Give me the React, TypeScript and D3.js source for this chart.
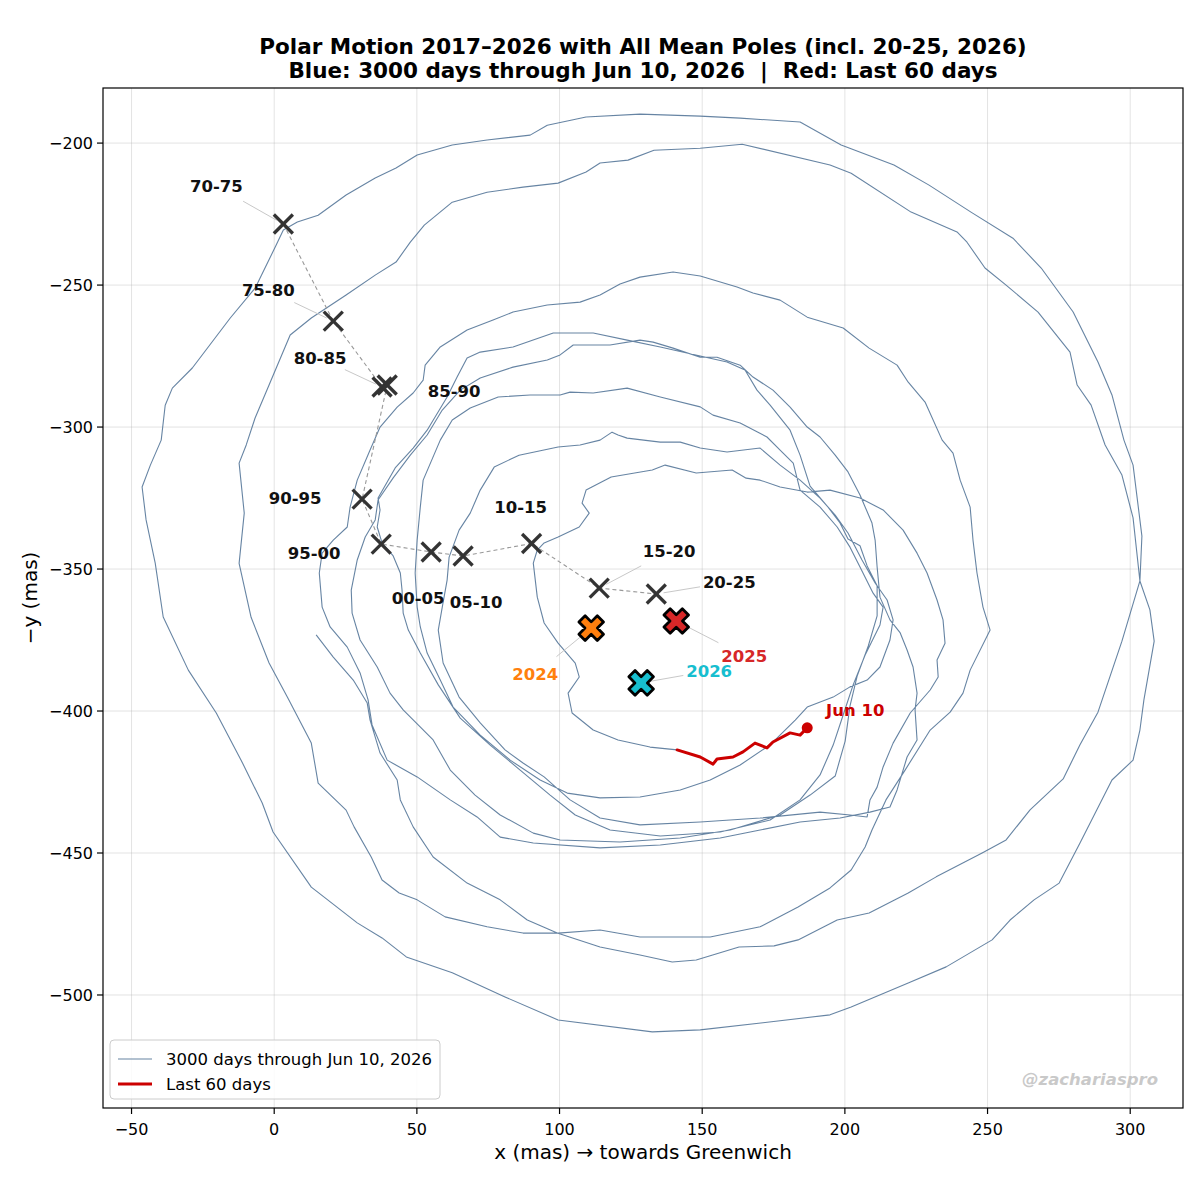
import * as d3 from "d3";
import React from "react";

type Pt = [number, number];

// polar motion path (x, -y in mas), oldest first
const loop1: Pt[] = [
  [14.7,-373.2],[20.7,-381.0],[27.7,-389.1],[32.6,-397.2],[33.6,-403.2],[37.1,-414.8],[43.1,-424.3],[44.2,-431.3],
  [48.7,-440.8],[55.7,-451.4],[67.6,-460.6],[79.2,-466.5],[88.7,-473.6],[99.2,-478.2],[114.2,-483.1],[128.2,-485.9],
  [139.5,-488.4],[147.9,-487.7],[162.9,-483.1],[175.2,-482.7],[183.6,-480.6],[197.3,-473.6],[208.5,-471.1],[222.2,-464.1],
  [232.0,-458.4],[248.1,-450.0],[256.5,-445.4],[264.9,-434.8],[276.5,-423.9],[282.4,-411.9],[288.7,-400.4],[297.1,-375.4],
  [303.4,-354.2],[304.1,-338.4],[301.0,-313.4],[297.8,-304.6],[293.6,-288.7],[288.7,-277.1],[280.0,-259.5],[268.8,-244.0],
  [258.9,-233.5],[244.2,-224.3],[229.5,-214.8],[217.2,-207.7],[198.7,-200.7],[184.3,-192.6],[163.3,-191.2],[149.3,-190.5],
  [128.2,-189.8],[109.3,-190.8],[95.7,-193.7],[89.7,-197.2],[74.6,-198.9],[62.4,-200.7],[50.1,-204.2],[42.7,-208.8],
  [35.4,-212.3],[25.2,-218.3],[15.4,-225.4],[8.1,-227.8],[3.2,-230.6],
];
const loop2: Pt[] = [
  [0.7,-235.9],[-6.7,-251.1],[-15.4,-261.6],[-28.7,-279.2],[-35.7,-286.3],[-38.2,-292.3],[-39.6,-304.6],[-43.4,-313.4],
  [-46.3,-321.1],[-44.9,-332.7],[-41.7,-347.9],[-38.9,-366.9],[-30.1,-385.6],[-20.3,-400.7],[-11.6,-417.3],[-4.2,-432.4],
  [-0.4,-442.6],[13.0,-462.0],[29.1,-474.6],[37.8,-479.9],[46.3,-486.6],[62.4,-492.2],[80.9,-500.7],[99.5,-508.8],
  [132.5,-513.0],[149.3,-512.3],[171.3,-509.8],[194.8,-507.0],[202.2,-504.2],[222.2,-495.8],[235.5,-490.1],[251.6,-480.6],
  [257.9,-473.6],[266.3,-466.5],[275.1,-460.6],[282.4,-446.5],[293.6,-424.3],[301.0,-417.3],[303.4,-406.7],[304.8,-396.1],
  [308.4,-375.4],[306.9,-364.4],[303.4,-354.2],[301.0,-332.0],[297.1,-316.9],[291.2,-306.3],[286.3,-292.3],[281.4,-285.2],
  [278.9,-273.6],[267.7,-259.5],[256.5,-250.0],[249.1,-244.0],[242.8,-234.9],[239.3,-231.3],[223.2,-224.3],[202.2,-210.6],
  [194.8,-207.7],[164.0,-200.4],[149.3,-201.8],[133.1,-202.5],[124.0,-206.0],[114.2,-207.0],[109.3,-210.2],[99.5,-214.1],
  [87.2,-215.5],[74.6,-217.3],[62.4,-220.8],[52.6,-228.9],[47.7,-234.9],[42.7,-241.9],[35.4,-246.5],[25.2,-253.5],
  [13.0,-261.6],[5.6,-267.6],
];
const loop3: Pt[] = [
  [-1.8,-285.2],[-6.7,-296.8],[-9.8,-306.3],[-12.3,-312.7],[-10.5,-330.3],[-12.3,-348.0],[-8.1,-367.0],[-1.8,-383.1],
  [4.6,-395.1],[13.0,-411.3],[15.4,-425.4],[25.2,-434.9],[28.0,-440.8],[34.0,-451.4],[37.8,-459.5],[43.8,-464.1],
  [50.1,-466.5],[59.9,-472.5],[74.6,-476.0],[87.2,-478.2],[99.5,-478.2],[114.2,-477.1],[128.2,-479.6],[152.8,-479.6],
  [170.3,-476.0],[183.6,-469.0],[194.8,-462.3],[202.2,-456.0],[207.1,-447.9],[209.5,-441.9],[214.4,-431.3],[221.1,-420.8],
  [229.9,-406.7],[236.9,-400.4],[241.4,-393.7],[243.9,-385.6],[250.9,-371.5],[248.4,-363.4],[246.3,-351.4],[244.9,-339.8],
  [243.9,-328.2],[240.4,-318.7],[237.9,-309.2],[234.1,-304.6],[228.1,-291.2],[222.2,-284.2],[218.3,-278.2],[208.5,-272.2],
  [199.4,-265.1],[186.8,-261.3],[177.3,-255.3],[167.8,-252.8],[162.2,-250.7],[149.3,-246.8],[139.8,-245.4],[128.2,-247.2],
  [121.2,-249.6],[114.2,-253.5],[107.2,-256.0],[95.7,-257.0],[83.7,-259.5],[76.7,-262.3],[67.6,-265.8],[58.2,-271.8],
  [52.9,-278.2],[52.2,-283.5],[48.7,-288.0],[43.1,-293.0],[37.1,-300.0],[33.6,-308.1],[29.1,-318.7],[26.6,-328.2],
  [25.6,-335.2],[20.7,-339.8],[16.8,-344.4],[15.8,-351.4],[16.8,-363.4],[19.6,-370.4],[25.6,-377.5],[30.1,-386.6],
  [32.9,-396.1],[34.3,-404.9],[39.6,-417.3],[50.1,-423.2],[61.7,-431.3],[71.1,-437.3],[79.2,-444.4],[90.8,-446.5],
  [114.2,-448.2],[135.3,-447.2],[156.3,-444.7],
];
const loop4: Pt[] = [
  [170.3,-441.9],[184.3,-439.1],[198.3,-437.7],[208.8,-435.6],[215.8,-433.8],[218.3,-427.8],[221.8,-416.2],[225.3,-410.2],
  [224.6,-399.6],[225.3,-393.7],[223.9,-384.5],[221.8,-378.5],[219.4,-372.5],[215.8,-367.9],[212.3,-359.9],[211.3,-349.3],
  [210.6,-339.8],[209.5,-333.8],[205.3,-323.9],[201.1,-315.8],[196.6,-309.9],[191.3,-303.5],[186.8,-300.0],[180.8,-293.0],
  [174.8,-287.0],[167.8,-282.4],[163.3,-278.2],[155.2,-275.4],[149.3,-275.4],[139.8,-272.2],[132.8,-270.1],[128.2,-269.4],
  [117.7,-271.1],[104.8,-271.1],[100.2,-274.6],[95.7,-276.4],[83.7,-278.9],[72.2,-282.7],[65.2,-287.0],[58.9,-294.0],
  [53.6,-302.8],[47.7,-309.9],[41.7,-317.9],[36.4,-325.7],[35.4,-332.7],[31.9,-338.7],[29.1,-346.8],[27.0,-357.4],
  [27.3,-365.5],[30.1,-375.0],[36.1,-384.5],[40.6,-393.7],[45.2,-399.6],[55.7,-410.2],[61.7,-420.8],[70.4,-429.6],
  [79.2,-436.6],[90.8,-443.0],[100.2,-445.4],[121.2,-446.1],[142.3,-444.7],[159.8,-441.9],[177.3,-436.6],[187.8,-429.6],
];
const loop5: Pt[] = [
  [196.6,-422.9],[200.1,-410.6],[201.8,-398.2],[204.3,-387.7],[208.2,-377.1],[211.3,-366.5],[211.3,-355.9],[207.8,-348.9],
  [205.3,-341.8],[201.1,-339.4],[198.3,-333.8],[193.8,-327.8],[187.8,-320.8],[184.3,-309.9],[180.8,-301.1],[173.8,-292.3],
  [169.2,-287.0],[165.0,-279.9],[158.7,-277.1],[149.3,-275.0],[135.3,-271.8],[123.7,-269.4],[111.8,-266.9],[97.8,-266.9],
  [83.7,-271.8],[72.2,-273.6],[67.6,-275.7],[64.1,-282.4],[60.6,-289.4],[53.6,-301.1],[48.7,-307.4],[42.4,-314.4],
  [36.4,-325.0],[37.1,-329.2],[36.1,-335.2],[37.8,-340.8],[41.7,-345.4],[44.2,-351.4],[44.8,-357.4],[45.2,-365.5],
  [47.0,-371.5],[51.2,-379.6],[57.5,-390.8],[65.2,-402.5],[75.7,-412.0],[86.2,-420.8],[96.7,-429.6],[105.5,-436.6],
  [117.7,-441.9],[135.3,-444.0],[156.3,-442.6],[173.8,-438.4],[184.3,-431.3],
];
const loop6: Pt[] = [
  [191.3,-422.5],[195.9,-412.0],[199.4,-401.4],[202.9,-390.8],[207.1,-380.3],[212.3,-369.7],[213.4,-363.4],[209.9,-358.5],
  [205.3,-349.3],[201.8,-342.3],[197.3,-335.2],[191.3,-328.2],[184.3,-322.2],[181.9,-312.7],[177.3,-308.1],[172.7,-303.5],
  [163.3,-298.6],[153.8,-295.8],[149.3,-292.9],[135.3,-289.4],[123.7,-286.3],[111.8,-288.0],[103.7,-287.7],[100.2,-288.7],
  [89.7,-288.7],[78.5,-289.4],[68.7,-293.3],[62.4,-297.5],[58.2,-304.6],[52.2,-318.7],[51.2,-328.2],[50.1,-339.8],
  [49.4,-351.4],[50.1,-363.4],[51.2,-370.4],[53.6,-379.6],[58.2,-389.1],[62.7,-398.6],[72.2,-408.5],[82.7,-417.3],
  [93.2,-424.3],[102.7,-428.9],[114.2,-430.6],[128.2,-430.3],[142.3,-427.8],[152.8,-424.3],[163.3,-419.0],[173.8,-411.9],
  [182.6,-403.2],[186.8,-398.6],[195.9,-395.1],[201.8,-391.5],[207.8,-389.1],[212.3,-384.5],[215.8,-375.0],[216.9,-367.9],
  [214.8,-360.9],[210.6,-354.9],[206.0,-346.8],[201.1,-337.3],[196.6,-331.0],[191.3,-325.0],[184.3,-318.7],[177.3,-313.4],
];
const loop7: Pt[] = [
  [170.3,-307.4],[158.7,-308.8],[149.3,-307.4],[142.3,-305.3],[135.3,-305.3],[123.7,-303.9],[120.5,-302.8],[118.4,-301.8],
  [114.2,-304.6],[107.2,-306.3],[99.5,-307.0],[85.8,-309.9],[77.1,-314.1],[72.2,-322.2],[68.7,-330.3],[64.8,-336.3],
  [61.3,-345.8],[60.6,-353.9],[58.9,-363.4],[57.5,-371.5],[59.2,-383.1],[64.8,-395.1],[72.2,-404.2],[80.9,-413.7],
  [87.2,-418.3],[94.6,-423.2],[103.7,-431.3],[114.2,-437.7],[128.2,-440.1],[149.3,-439.1],[170.3,-437.7],[191.3,-435.6],
  [201.8,-436.6],[207.8,-437.3],
];
const loop8: Pt[] = [
  [208.8,-431.3],[211.3,-426.8],[213.4,-419.7],[216.9,-411.3],[222.9,-400.7],[229.9,-392.6],[232.7,-388.0],[232.3,-382.0],
  [235.1,-376.1],[234.4,-367.9],[232.3,-360.9],[228.8,-351.4],[225.3,-344.4],[220.4,-336.3],[213.4,-329.2],[205.3,-325.0],
  [194.8,-322.2],[186.8,-322.9],[177.3,-321.1],[170.3,-318.7],[165.4,-318.0],[160.5,-315.1],[147.9,-316.2],[137.0,-313.4],
  [132.5,-315.1],[118.1,-317.6],[109.3,-322.2],[107.9,-326.8],[110.4,-330.3],[106.9,-335.2],[99.5,-338.7],[94.6,-340.8],
  [92.2,-343.3],[90.8,-347.9],[92.2,-359.9],[94.6,-369.0],[99.5,-376.1],[105.5,-383.1],[106.9,-388.0],[103.0,-393.7],
  [104.4,-400.7],[111.8,-406.7],[120.5,-410.2],[131.7,-412.7],
];
const last60: Pt[] = [
  [141.2,-413.7],[149.3,-416.2],[153.8,-418.7],[155.2,-416.9],[160.8,-416.2],[164.3,-414.4],[168.5,-411.3],[172.7,-413.0],
  [174.8,-410.9],[180.8,-407.7],[184.3,-408.5],[186.8,-405.9],
];

// five-year mean poles
const meanLabels = ["70-75", "75-80", "80-85", "85-90", "90-95", "95-00", "00-05", "05-10", "10-15", "15-20", "20-25"];
const meanX = [3.2, 20.7, 37.8, 39.6, 30.8, 37.5, 55.0, 66.2, 90.2, 113.9, 133.9];
const meanY = [-228.5, -262.7, -285.9, -285.2, -325.4, -341.2, -344.0, -345.4, -341.0, -356.7, -358.8];

// yearly mean poles
const yearLabels = ["2024", "2025", "2026"];
const yearX = [111.1, 140.9, 128.6];
const yearY = [-370.8, -368.3, -390.1];

const xTicks = [-50, 0, 50, 100, 150, 200, 250, 300];
const yTicks = [-200, -250, -300, -350, -400, -450, -500];

// label placement (px offsets from the marker), layout only
const meanOffsets: [number, number, boolean][] = [
  [-67, -38, true], [-65, -31, true], [-62, -29, true], [67, 6, false], [-67, -1, false], [-67, 9, false],
  [-13, 46, false], [13, 46, false], [-11, -36, false], [70, -37, true], [73, -12, true],
];
const yearOffsets: [number, number][] = [[-56, 46], [68, 35], [68, -12]];
const yearColors = ["#ff7f0e", "#d62728", "#17becf"];

const FONT = "DejaVu Sans, Verdana, sans-serif";
const M = { left: 103, right: 1183, top: 88, bottom: 1108 };
const minus = (v: number) => String(v).replace("-", "\u2212");

const xMark = (L: number, w: number) =>
  [[w, L], [w, w], [L, w], [L, -w], [w, -w], [w, -L], [-w, -L], [-w, -w], [-L, -w], [-L, w], [-w, w], [-w, L]]
    .map(p => p.join(",")).join(" ");

const App: React.FC = () => {
  const x = d3.scaleLinear().domain([-60, 318.5]).range([M.left, M.right]);
  const y = d3.scaleLinear().domain([-539.8, -180.6]).range([M.bottom, M.top]);
  const line = d3.line<Pt>().x(d => x(d[0])).y(d => y(d[1]));

  const blue = [...loop1, ...loop2, ...loop3, ...loop4, ...loop5, ...loop6, ...loop7, ...loop8, ...last60];
  const meanPts: Pt[] = meanX.map((v, i) => [v, meanY[i]]);
  const end = last60[last60.length - 1];

  return (
    <svg width={1200} height={1200} style={{ position: "absolute", left: 0, top: 0, background: "white" }} fontFamily={FONT}>
      <defs>
        <clipPath id="plot"><rect x={M.left} y={M.top} width={M.right - M.left} height={M.bottom - M.top} /></clipPath>
      </defs>

      {/* grid */}
      {xTicks.map(t => (
        <line key={"gx" + t} x1={x(t)} x2={x(t)} y1={M.top} y2={M.bottom} stroke="#b0b0b0" strokeOpacity={0.35} strokeWidth={1} />
      ))}
      {yTicks.map(t => (
        <line key={"gy" + t} x1={M.left} x2={M.right} y1={y(t)} y2={y(t)} stroke="#b0b0b0" strokeOpacity={0.35} strokeWidth={1} />
      ))}

      <g clipPath="url(#plot)">
        <path d={line(blue)!} fill="none" stroke="#4b6e93" strokeOpacity={0.85} strokeWidth={1.1} strokeLinejoin="round" />
        <path d={line(meanPts)!} fill="none" stroke="#999" strokeWidth={1.1} strokeDasharray="4,3" />
        <path d={line(last60)!} fill="none" stroke="#cc0000" strokeWidth={3} strokeLinejoin="round" strokeLinecap="round" />
        <circle cx={x(end[0])} cy={y(end[1])} r={5.5} fill="#cc0000" />

        {meanLabels.map((lab, i) => {
          const cx = x(meanX[i]), cy = y(meanY[i]);
          const [dx, dy, lead] = meanOffsets[i];
          return (
            <g key={lab}>
              {lead && (
                <line x1={cx + dx * 0.6} y1={cy + dy * 0.6} x2={cx + dx * 0.1} y2={cy + dy * 0.1} stroke="#c8c8c8" strokeWidth={1} />
              )}
              <g transform={`translate(${cx},${cy})`} stroke="#333" strokeWidth={3.3} strokeLinecap="butt">
                <line x1={-9.5} y1={-9.5} x2={9.5} y2={9.5} />
                <line x1={-9.5} y1={9.5} x2={9.5} y2={-9.5} />
              </g>
              <text x={cx + dx} y={cy + dy} dy="0.35em" textAnchor="middle" fontSize={16.5} fontWeight="bold" fill="#111">{lab}</text>
            </g>
          );
        })}

        {yearLabels.map((lab, i) => {
          const cx = x(yearX[i]), cy = y(yearY[i]);
          const [dx, dy] = yearOffsets[i];
          return (
            <g key={lab}>
              <line x1={cx + dx * 0.62} y1={cy + dy * 0.62} x2={cx + dx * 0.1} y2={cy + dy * 0.1} stroke="#c8c8c8" strokeWidth={1} />
              <polygon points={xMark(13, 4.4)} transform={`translate(${cx},${cy}) rotate(45)`} fill={yearColors[i]} stroke="#000" strokeWidth={2.8} strokeLinejoin="round" />
              <text x={cx + dx} y={cy + dy} dy="0.35em" textAnchor="middle" fontSize={16.5} fontWeight="bold" fill={yearColors[i]}>{lab}</text>
            </g>
          );
        })}

        <text x={x(end[0]) + 48} y={y(end[1]) - 18} dy="0.35em" textAnchor="middle" fontSize={16.5} fontWeight="bold" fill="#cc0000">Jun 10</text>
      </g>

      {/* frame */}
      <rect x={M.left} y={M.top} width={M.right - M.left} height={M.bottom - M.top} fill="none" stroke="#000" strokeWidth={1.2} />

      {/* axes */}
      {xTicks.map(t => (
        <g key={"tx" + t}>
          <line x1={x(t)} x2={x(t)} y1={M.bottom} y2={M.bottom + 6} stroke="#000" strokeWidth={1.2} />
          <text x={x(t)} y={M.bottom + 27} textAnchor="middle" fontSize={16} fill="#000">{minus(t)}</text>
        </g>
      ))}
      {yTicks.map(t => (
        <g key={"ty" + t}>
          <line x1={M.left - 6} x2={M.left} y1={y(t)} y2={y(t)} stroke="#000" strokeWidth={1.2} />
          <text x={M.left - 10} y={y(t)} dy="0.35em" textAnchor="end" fontSize={16} fill="#000">{minus(t)}</text>
        </g>
      ))}
      <text x={(M.left + M.right) / 2} y={1159} textAnchor="middle" fontSize={20} fill="#000">x (mas) → towards Greenwich</text>
      <text transform={`translate(37,${(M.top + M.bottom) / 2}) rotate(-90)`} textAnchor="middle" fontSize={20} fill="#000">−y (mas)</text>

      {/* title */}
      <text x={(M.left + M.right) / 2} y={54} textAnchor="middle" fontSize={21.5} fontWeight="bold" fill="#000">
        Polar Motion 2017–2026 with All Mean Poles (incl. 20-25, 2026)
      </text>
      <text x={(M.left + M.right) / 2} y={78} textAnchor="middle" fontSize={21.5} fontWeight="bold" fill="#000" style={{ whiteSpace: "pre" }}>
        {"Blue: 3000 days through Jun 10, 2026  |  Red: Last 60 days"}
      </text>

      {/* legend */}
      <g>
        <rect x={110} y={1040} width={330} height={59} rx={4} fill="white" fillOpacity={0.85} stroke="#ccc" strokeWidth={1} />
        <line x1={118} x2={152} y1={1059} y2={1059} stroke="#4b6e93" strokeOpacity={0.85} strokeWidth={1.1} />
        <text x={166} y={1059} dy="0.35em" fontSize={16.5} fill="#000">3000 days through Jun 10, 2026</text>
        <line x1={118} x2={152} y1={1084} y2={1084} stroke="#cc0000" strokeWidth={3} />
        <text x={166} y={1084} dy="0.35em" fontSize={16.5} fill="#000">Last 60 days</text>
      </g>

      {/* watermark */}
      <text x={1158} y={1085} textAnchor="end" fontSize={16.5} fontWeight="bold" fontStyle="italic" fill="#bbb" fillOpacity={0.8}>@zachariaspro</text>
    </svg>
  );
};

export default App;
